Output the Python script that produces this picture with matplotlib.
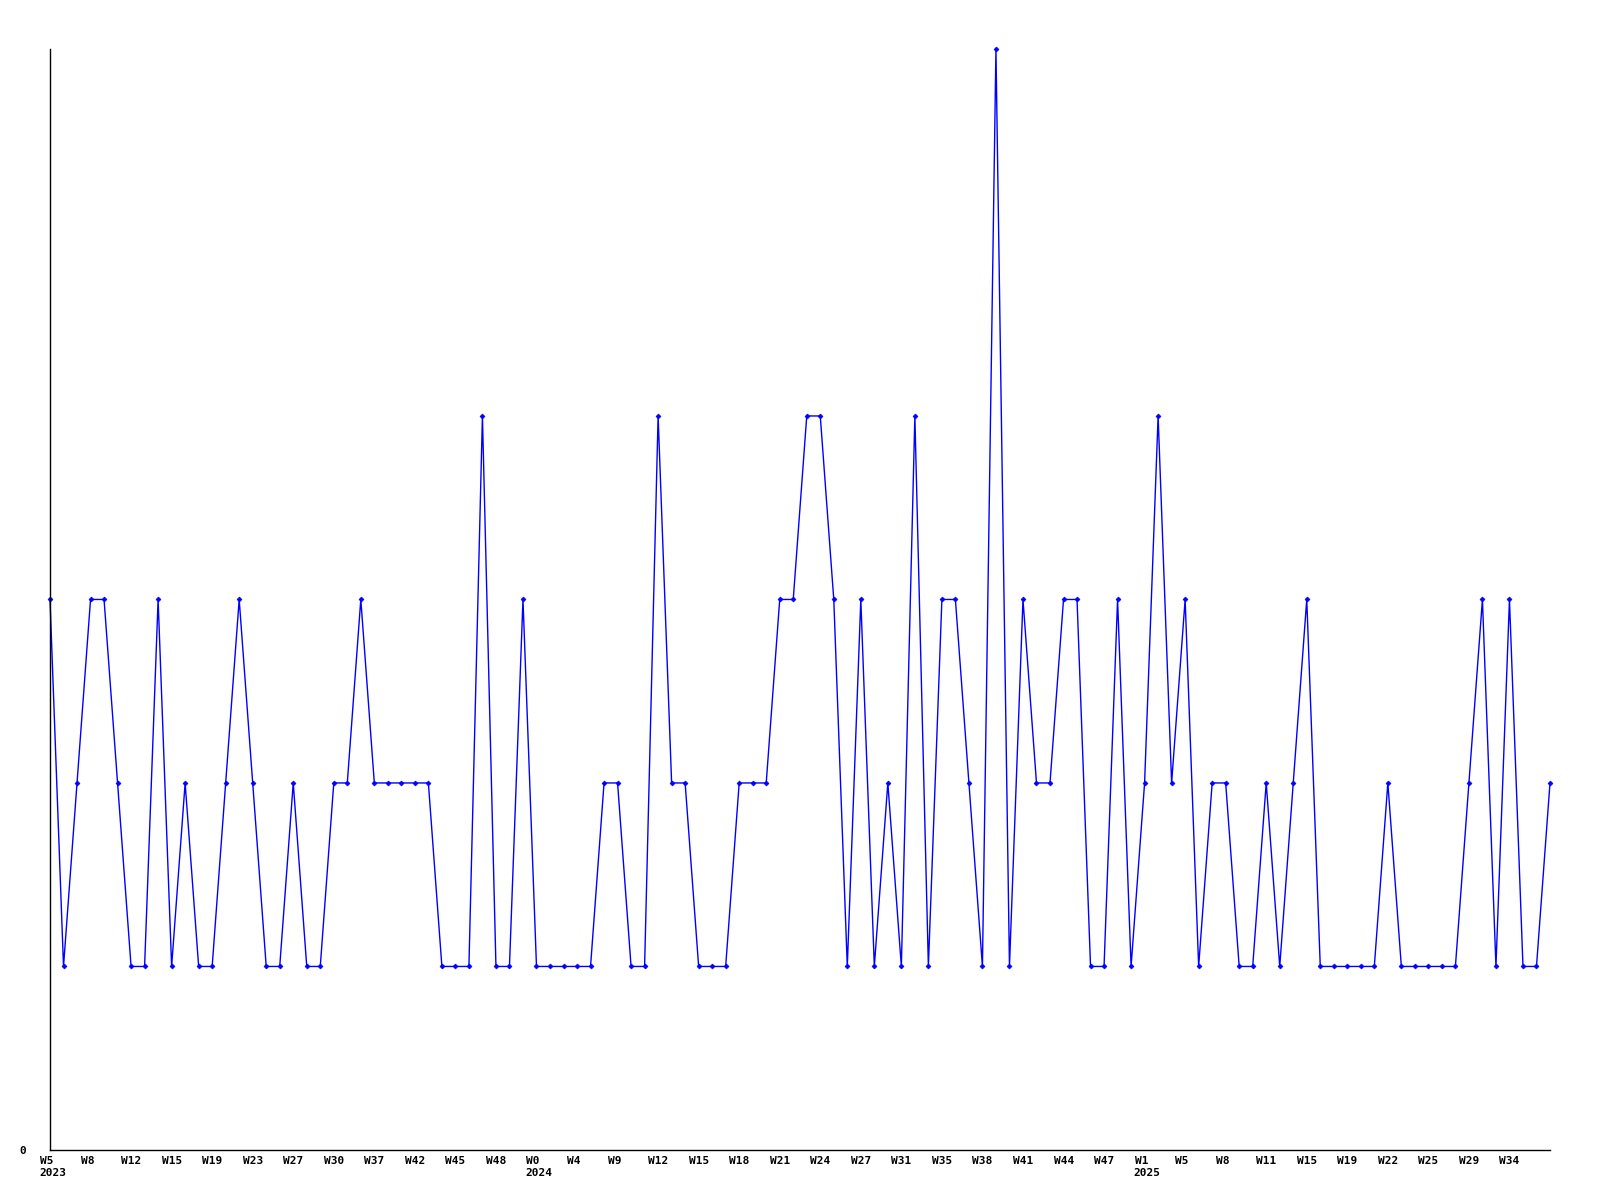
import matplotlib
matplotlib.use("Agg")
import matplotlib.pyplot as plt
from matplotlib.transforms import blended_transform_factory, ScaledTranslation

# weekly counts, one per week
counts = [3, 1, 2, 3, 3, 2, 1, 1, 3, 1, 2, 1, 1, 2, 3, 2, 1, 1, 2, 1,
          1, 2, 2, 3, 2, 2, 2, 2, 2, 1, 1, 1, 4, 1, 1, 3, 1, 1, 1, 1,
          1, 2, 2, 1, 1, 4, 2, 2, 1, 1, 1, 2, 2, 2, 3, 3, 4, 4, 3, 1,
          3, 1, 2, 1, 4, 1, 3, 3, 2, 1, 6, 1, 3, 2, 2, 3, 3, 1, 1, 3,
          1, 2, 4, 2, 3, 1, 2, 2, 1, 1, 2, 1, 2, 3, 1, 1, 1, 1, 1, 2,
          1, 1, 1, 1, 1, 2, 3, 1, 3, 1, 1, 2]

# one label every third week
week_labels = ["W5", "W8", "W12", "W15", "W19", "W23", "W27", "W30", "W37",
               "W42", "W45", "W48", "W0", "W4", "W9", "W12", "W15", "W18",
               "W21", "W24", "W27", "W31", "W35", "W38", "W41", "W44", "W47",
               "W1", "W5", "W8", "W11", "W15", "W19", "W22", "W25", "W29", "W34"]
label_step = 3
years = {0: "2023", 36: "2024", 81: "2025"}

x = list(range(len(counts)))

fig = plt.figure(figsize=(16, 12), dpi=100)
ax = fig.add_axes([0.03125, 0.0417, 0.9375, 0.9175])

ax.plot(x, counts, color="#0000ff", lw=1.0, marker="D", markersize=2.5,
        markeredgewidth=0.5, clip_on=False)

ax.set_xlim(0, len(counts) - 1)
ax.set_ylim(0, 6)

for s in ["top", "right"]:
    ax.spines[s].set_visible(False)
for s in ["left", "bottom"]:
    ax.spines[s].set_linewidth(1.0)
    ax.spines[s].set_color("black")

font = dict(family="DejaVu Sans Mono", weight="bold", size=8)

ax.set_yticks([0])
ax.set_yticklabels(["0"], **font)
ax.tick_params(axis="y", length=0, pad=17)

# labels start a little left of their week
ticks = [i * label_step for i in range(len(week_labels))]
ax.set_xticks(ticks)
ax.set_xticklabels(week_labels, ha="left", **font)
ax.tick_params(axis="x", length=0, pad=4)
shift = ScaledTranslation(-10 / 100, 0, fig.dpi_scale_trans)
for lbl in ax.get_xticklabels():
    lbl.set_transform(lbl.get_transform() + shift)

trans = blended_transform_factory(ax.transData, ax.transAxes)
for idx, yr in years.items():
    ax.annotate(yr, xy=(idx, 0), xycoords=trans, xytext=(-11, -28),
                textcoords="offset pixels", ha="left", va="bottom", **font)

fig.savefig("out.png", dpi=100, facecolor="white")
